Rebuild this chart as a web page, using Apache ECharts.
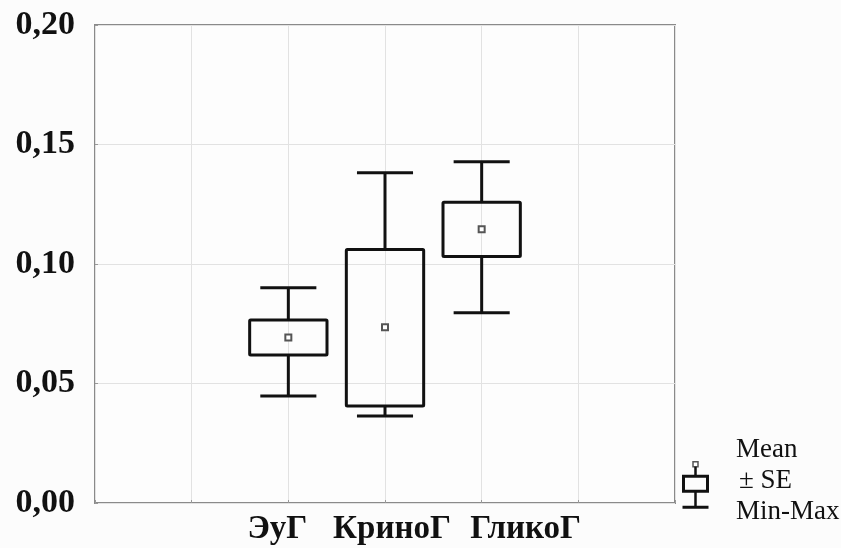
<!DOCTYPE html>
<html>
<head>
<meta charset="utf-8">
<script src="https://cdn.jsdelivr.net/npm/echarts@6/dist/echarts.min.js"></script>
<style>
html,body{margin:0;padding:0;background:#fcfcfc;}
#chart{width:841px;height:548px;}
</style>
</head>
<body>
<div id="chart"></div>
<script>
// Category names and their positions on the x scale (0..6)
const categories = ['ЭуГ', 'КриноГ', 'ГликоГ'];
const catPositions = [2, 3, 4];
// Values
const minVals  = [0.0448, 0.0364, 0.0796];
const seLow    = [0.0619, 0.0406, 0.1031];
const meanVals = [0.0692, 0.0735, 0.1145];
const seHigh   = [0.0766, 0.1061, 0.1258];
const maxVals  = [0.0901, 0.1382, 0.1428];
const yTicks = [0, 0.05, 0.10, 0.15, 0.20];
const legendLabels = ['Mean', '± SE', 'Min-Max'];

const data = categories.map((c, i) => [catPositions[i], minVals[i], seLow[i], meanVals[i], seHigh[i], maxVals[i]]);

const chart = echarts.init(document.getElementById('chart'));
const serif = '"Liberation Serif", "DejaVu Serif", serif';

function renderItem(params, api) {
  const x = api.value(0);
  const pMin = api.coord([x, api.value(1)]);
  const pLo = api.coord([x, api.value(2)]);
  const pMean = api.coord([x, api.value(3)]);
  const pHi = api.coord([x, api.value(4)]);
  const pMax = api.coord([x, api.value(5)]);
  const unit = api.size([1, 0])[0];
  const bw = unit * 0.8;
  const cw = unit * 0.58;
  const cx = pMean[0];
  const lineStyle = {stroke: '#111', lineWidth: 3, fill: null};
  return {
    type: 'group',
    children: [
      {type: 'line', shape: {x1: cx, y1: pMax[1], x2: cx, y2: pHi[1]}, style: lineStyle},
      {type: 'line', shape: {x1: cx, y1: pLo[1], x2: cx, y2: pMin[1]}, style: lineStyle},
      {type: 'line', shape: {x1: cx - cw / 2, y1: pMax[1], x2: cx + cw / 2, y2: pMax[1]}, style: lineStyle},
      {type: 'line', shape: {x1: cx - cw / 2, y1: pMin[1], x2: cx + cw / 2, y2: pMin[1]}, style: lineStyle},
      {type: 'rect', shape: {x: cx - bw / 2, y: pHi[1], width: bw, height: pLo[1] - pHi[1], r: 1}, style: {stroke: '#111', lineWidth: 3, fill: 'rgba(0,0,0,0)'}},
      {type: 'rect', shape: {x: cx - 3, y: pMean[1] - 3, width: 6, height: 6}, style: {stroke: '#555', lineWidth: 2, fill: '#fff'}}
    ]
  };
}

const labelFont = {fontFamily: serif, fontWeight: 'bold', fontSize: 33, color: '#111'};

chart.setOption({
  backgroundColor: '#fcfcfc',
  animation: false,
  grid: {left: 95, right: 166, top: 25, bottom: 45, show: true, borderColor: '#8a8a8a', borderWidth: 2, backgroundColor: '#fdfdfd'},
  xAxis: {
    type: 'value', min: 0, max: 6, interval: 1,
    axisLine: {show: false},
    axisTick: {show: true, inside: true, length: 3, lineStyle: {color: '#999'}},
    splitLine: {show: true, lineStyle: {color: '#e2e2e2', width: 1}},
    axisLabel: {
      margin: 10,
      formatter: function (v) {
        const i = catPositions.indexOf(v);
        return i >= 0 ? '{c' + i + '|' + categories[i] + '}' : '';
      },
      rich: {
        c0: Object.assign({padding: [0, 22, 0, 0]}, labelFont),
        c1: Object.assign({padding: [0, 0, 0, 14]}, labelFont),
        c2: Object.assign({padding: [0, 0, 0, 88]}, labelFont)
      }
    }
  },
  yAxis: {
    type: 'value', min: 0, max: 0.20, interval: 0.05,
    axisLine: {show: false},
    axisTick: {show: true, inside: true, length: 3, lineStyle: {color: '#999'}},
    splitLine: {show: true, lineStyle: {color: '#e2e2e2', width: 1}},
    axisLabel: {
      margin: 20,
      fontFamily: serif, fontWeight: 'bold', fontSize: 34, color: '#111',
      formatter: function (v) {
        const t = yTicks.find(k => Math.abs(k - v) < 1e-9);
        return (t !== undefined ? t : v).toFixed(2).replace('.', ',');
      }
    }
  },
  series: [{
    type: 'custom',
    renderItem: renderItem,
    encode: {x: 0, y: [1, 2, 3, 4, 5]},
    data: data,
    clip: false
  }],
  graphic: [
    {type: 'group', left: 680, top: 461, children: [
      {type: 'rect', shape: {x: 11, y: 0.5, width: 5, height: 5}, style: {stroke: '#555', lineWidth: 1.5, fill: '#fff'}},
      {type: 'line', shape: {x1: 13.5, y1: 5.5, x2: 13.5, y2: 15}, style: {stroke: '#111', lineWidth: 2.5}},
      {type: 'rect', shape: {x: 1.5, y: 15, width: 24, height: 15}, style: {stroke: '#111', lineWidth: 3, fill: 'rgba(0,0,0,0)'}},
      {type: 'line', shape: {x1: 13.5, y1: 30, x2: 13.5, y2: 46}, style: {stroke: '#111', lineWidth: 2.5}},
      {type: 'line', shape: {x1: 0.5, y1: 46, x2: 26.5, y2: 46}, style: {stroke: '#111', lineWidth: 3}}
    ]},
    {type: 'text', left: 736, top: 436, style: {text: legendLabels[0], font: '27px ' + serif, fill: '#111'}},
    {type: 'text', left: 739, top: 467, style: {text: legendLabels[1], font: '27px ' + serif, fill: '#111'}},
    {type: 'text', left: 736, top: 498, style: {text: legendLabels[2], font: '27px ' + serif, fill: '#111'}}
  ]
});
</script>
</body>
</html>
